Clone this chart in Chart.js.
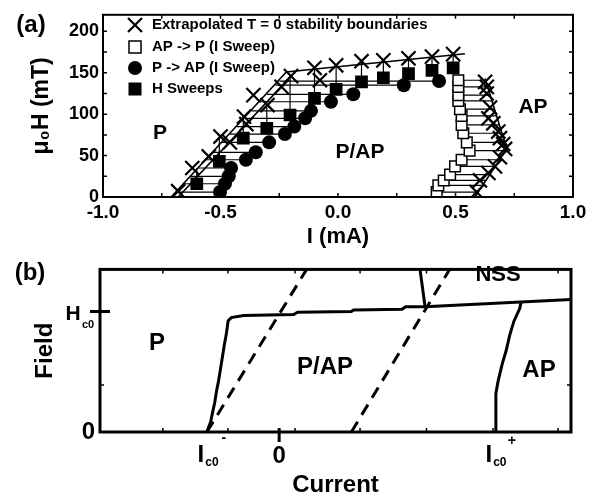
<!DOCTYPE html>
<html>
<head>
<meta charset="utf-8">
<script src="https://cdn.jsdelivr.net/npm/chart.js"></script>
<style>
  body { margin: 0; background: #fff; }
  #wrap { position: relative; width: 607px; height: 500px; }
  canvas { position: absolute; left: 0; }
  #a { top: 0; }
  #b { top: 250px; }
</style>
</head>
<body>
<div id="wrap">
<canvas id="a" width="607" height="250"></canvas>
<canvas id="b" width="607" height="250"></canvas>
</div>
<script>
// ---- panel (a): I in mA, H in mT ----
const xTickA = [-1, -0.5, 0, 0.5, 1];
const yTickA = [0, 50, 100, 150, 200];
const minorXA = [-0.75, -0.25, 0.25, 0.75];
const minorYA = [25, 75, 125, 175];

// P -> AP (I sweep), filled circles, and where their guide line starts on the left
const circI = [-0.502, -0.481, -0.465, -0.455, -0.392, -0.35, -0.293, -0.226, -0.186, -0.14, -0.115, -0.03, 0.065, 0.28, 0.43];
const circH = [6, 16, 25, 35, 45, 54, 66, 76, 85, 95, 104, 115, 124, 135, 140];
const circFromI = [-0.69, -0.657, -0.628, -0.595, -0.562, -0.532, -0.493, -0.46, -0.43, -0.398, -0.368, -0.332, -0.302, -0.266, -0.25];

// AP -> P (I sweep), open squares, and where their guide line ends on the right
const openI = [0.42, 0.427, 0.45, 0.477, 0.498, 0.526, 0.56, 0.548, 0.533, 0.526, 0.526, 0.519, 0.512, 0.512, 0.512, 0.512];
const openH = [6, 14, 20, 27, 37, 45, 56, 66, 77, 87, 98, 106, 116, 123, 133, 141];
const openToI = [0.597, 0.616, 0.63, 0.646, 0.669, 0.688, 0.713, 0.709, 0.697, 0.687, 0.675, 0.666, 0.655, 0.648, 0.637, 0.628];

// H sweeps, filled squares, with the field of the cross above each
const hsI = [-0.601, -0.505, -0.403, -0.303, -0.204, -0.1, -0.008, 0.1, 0.193, 0.3, 0.4, 0.49];
const hsH = [16, 43, 71, 83, 99, 119, 130, 139, 144, 149, 153, 156];
const hsToH = [35, 73, 97, 111, 146, 156, 159, 164, 165, 167.5, 169.5, 172.5];

// extrapolated T = 0 points (crosses)
const xLeftI = [-0.68, -0.62, -0.55, -0.5, -0.46, -0.4, -0.39, -0.36, -0.3, -0.24, -0.2, -0.1, -0.077];
const xLeftH = [7, 35, 49, 73, 66, 97, 88, 123, 111, 133, 146, 156, 141];
const xTopI = [-0.008, 0.1, 0.193, 0.3, 0.4, 0.49];
const xTopH = [159, 164, 165, 167.5, 169.5, 172.5];
const xRightI = [0.59, 0.604, 0.64, 0.668, 0.689, 0.711, 0.703, 0.689, 0.682, 0.661, 0.64, 0.647, 0.633, 0.633, 0.626];
const xRightH = [6, 20, 29, 37, 48, 58, 64, 71, 79, 89, 95, 108, 125, 133, 139];

// boundary fits
const fitLeftI = [-0.71, -0.22, 0.54];
const fitLeftH = [0, 151, 173];
const fitLeft2I = [-0.68, -0.2];
const fitLeft2H = [0, 146];
const fitRightI = [0.583, 0.718, 0.626];
const fitRightH = [0, 58, 143];

// ---- panel (b): schematic, current in units of |Ic0-|, field in units of Hc0 ----
const xTickB = [-1, 0, 3];
const yTickB = [0, 1];
const minorXB = [-1.61, -0.71, 0.22, 1.12, 2.04, 2.96, 3.86];
const minorYB = [0.39];

const bEdgeI = [-1.0, -0.946, -0.92, -0.893, -0.866, -0.84, -0.813, -0.786, -0.76, -0.73, -0.706, -0.663, -0.49, 0.2, 0.256, 1.0, 1.03, 1.7, 1.75, 2.02];
const bEdgeH = [0, 0.09, 0.167, 0.24, 0.343, 0.42, 0.52, 0.62, 0.72, 0.82, 0.924, 0.95, 0.967, 0.975, 0.995, 1.0, 1.013, 1.02, 1.04, 1.04];
const bNssI = [2.02, 4.04];
const bNssH = [1.04, 1.1];
const bUpI = [1.95, 2.02];
const bUpH = [1.35, 1.04];
const bRightI = [3.0, 3.0, 3.03, 3.09, 3.14, 3.19, 3.25, 3.33, 3.35];
const bRightH = [0, 0.318, 0.42, 0.57, 0.67, 0.8, 0.92, 1.025, 1.08];
const bDash1I = [-1.0, 0.38];
const bDash1H = [0, 1.35];
const bDash2I = [1.0, 2.36];
const bDash2H = [0, 1.35];

Chart.defaults.font.family = '"Liberation Sans", Arial, sans-serif';
Chart.defaults.font.weight = 'bold';
Chart.defaults.color = '#000';

const pts = (xs, ys) => xs.map((v, i) => ({x: v, y: ys[i]}));
const line = (xs, ys, w, dash) => ({
  data: pts(xs, ys), showLine: true, pointRadius: 0, borderColor: '#000',
  borderWidth: w, borderDash: dash || [], fill: false
});

function label(ctx, s, x, y, size, align) {
  ctx.font = 'bold ' + size + 'px "Liberation Sans", Arial, sans-serif';
  ctx.textAlign = align || 'center';
  ctx.textBaseline = 'middle';
  ctx.fillStyle = '#000';
  ctx.fillText(s, x, y);
}

function frame(chart, xs, ys, len, lw) {
  const {ctx, chartArea: a, scales} = chart;
  ctx.save();
  ctx.strokeStyle = '#000';
  ctx.lineWidth = 1.5;
  ctx.beginPath();
  xs.forEach(v => {
    const p = scales.x.getPixelForValue(v);
    ctx.moveTo(p, a.bottom); ctx.lineTo(p, a.bottom - len);
    ctx.moveTo(p, a.top); ctx.lineTo(p, a.top + len);
  });
  ys.forEach(v => {
    const p = scales.y.getPixelForValue(v);
    ctx.moveTo(a.left, p); ctx.lineTo(a.left + len, p);
    ctx.moveTo(a.right, p); ctx.lineTo(a.right - len, p);
  });
  ctx.stroke();
  ctx.lineWidth = lw;
  ctx.strokeRect(a.left, a.top, a.right - a.left, a.bottom - a.top);
  ctx.restore();
}

// ---------- chart (a) ----------
const dsA = [
  {label: 'Extrapolated T = 0 stability boundaries',
   data: pts(xLeftI.concat(xTopI, xRightI), xLeftH.concat(xTopH, xRightH)),
   pointStyle: 'crossRot', pointRadius: 10, borderColor: '#000', backgroundColor: '#000', borderWidth: 2.2},
  {label: 'AP -> P (I Sweep)', data: pts(openI, openH),
   pointStyle: 'rect', pointRadius: 7.5, borderColor: '#000', backgroundColor: '#fff', borderWidth: 1.5},
  {label: 'P -> AP (I Sweep)', data: pts(circI, circH),
   pointStyle: 'circle', pointRadius: 7, borderColor: '#000', backgroundColor: '#000', borderWidth: 0},
  {label: 'H Sweeps', data: pts(hsI, hsH),
   pointStyle: 'rect', pointRadius: 9, borderColor: '#000', backgroundColor: '#000', borderWidth: 0},
  line(fitLeftI, fitLeftH, 1.6),
  line(fitLeft2I, fitLeft2H, 1.6),
  line(fitRightI, fitRightH, 1.6)
];
circI.forEach((v, i) => dsA.push(line([circFromI[i], v], [circH[i], circH[i]], 1.2)));
openI.forEach((v, i) => dsA.push(line([v, openToI[i]], [openH[i], openH[i]], 1.2)));
hsI.forEach((v, i) => dsA.push(line([v, v], [hsH[i], hsToH[i]], 1.2)));

const panelA = {
  id: 'panelA',
  afterDraw(chart) {
    const ctx = chart.ctx;
    frame(chart, xTickA.concat(minorXA), yTickA.concat(minorYA), 4, 2);
    ctx.save();
    // legend, inside the plot
    const rows = [25, 47, 68, 89], mx = 135, tx = 152;
    ctx.strokeStyle = '#000'; ctx.fillStyle = '#000';
    ctx.lineWidth = 2.2;
    ctx.beginPath();
    ctx.moveTo(mx - 7, rows[0] - 7); ctx.lineTo(mx + 7, rows[0] + 7);
    ctx.moveTo(mx + 7, rows[0] - 7); ctx.lineTo(mx - 7, rows[0] + 7);
    ctx.stroke();
    ctx.lineWidth = 1.5;
    ctx.strokeRect(mx - 6, rows[1] - 6, 12, 12);
    ctx.beginPath(); ctx.arc(mx, rows[2], 7, 0, Math.PI * 2); ctx.fill();
    ctx.fillRect(mx - 6.5, rows[3] - 6.5, 13, 13);
    for (let i = 0; i < 4; i++) label(ctx, chart.data.datasets[i].label, tx, rows[i], 15, 'left');
    label(ctx, 'P', 160, 133, 21);
    label(ctx, 'P/AP', 360, 152, 21);
    label(ctx, 'AP', 533, 107, 21);
    label(ctx, '(a)', 31, 25, 24);
    ctx.restore();
  }
};

new Chart(document.getElementById('a'), {
  type: 'scatter',
  data: {datasets: dsA},
  options: {
    responsive: false,
    animation: false,
    layout: {padding: {top: 6, right: 34, left: 0, bottom: 0}},
    plugins: {legend: {display: false}, tooltip: {enabled: false}},
    scales: {
      x: {
        type: 'linear', min: -1, max: 1,
        grid: {display: false, drawTicks: false}, border: {display: false},
        afterBuildTicks: s => { s.ticks = xTickA.map(v => ({value: v})); },
        afterFit: s => { s.height = 53; },
        ticks: {autoSkip: false, padding: 4, font: {size: 19, weight: 'bold'}, callback: v => v.toFixed(1)},
        title: {display: true, text: 'I (mA)', font: {size: 22, weight: 'bold'}, padding: {top: 0, bottom: 0}}
      },
      y: {
        type: 'linear', min: 0, max: 220,
        grid: {display: false, drawTicks: false}, border: {display: false},
        afterBuildTicks: s => { s.ticks = yTickA.map(v => ({value: v})); },
        afterFit: s => { s.width = 103; },
        ticks: {autoSkip: false, padding: 4, font: {size: 18, weight: 'bold'}, callback: v => String(v)},
        title: {display: true, text: 'μ₀H (mT)', font: {size: 23, weight: 'bold'}, padding: {top: 28, bottom: 0}}
      }
    }
  },
  plugins: [panelA]
});

// ---------- chart (b) ----------
const dsB = [
  line(bEdgeI, bEdgeH, 3),
  line(bNssI, bNssH, 3),
  line(bUpI, bUpH, 3),
  line(bRightI, bRightH, 3),
  line(bDash1I, bDash1H, 3, [12, 8]),
  line(bDash2I, bDash2H, 3, [12, 8])
];

const panelB = {
  id: 'panelB',
  afterDraw(chart) {
    const {ctx, chartArea: a, scales: {x, y}} = chart;
    frame(chart, minorXB, minorYB, 4, 3);
    ctx.save();
    ctx.strokeStyle = '#000';
    ctx.lineWidth = 3;
    ctx.beginPath();
    const x0 = x.getPixelForValue(0);
    ctx.moveTo(x0, a.bottom - 4); ctx.lineTo(x0, a.bottom + 10);
    const yh = y.getPixelForValue(1);
    ctx.moveTo(a.left - 10, yh); ctx.lineTo(a.left + 10, yh);
    ctx.stroke();
    // H_c0
    label(ctx, 'H', 73, yh + 3, 21);
    label(ctx, 'c0', 88, yh + 13, 11);
    // I_c0 labels
    const xm = x.getPixelForValue(-1), xp = x.getPixelForValue(3);
    label(ctx, 'I', xm - 6, 205, 24);
    label(ctx, 'c0', xm + 5, 213, 12);
    label(ctx, '-', xm + 17, 188, 14);
    label(ctx, 'I', xp - 7, 205, 24);
    label(ctx, 'c0', xp + 4, 213, 12);
    label(ctx, '+', xp + 16, 191, 14);
    label(ctx, 'P', 157, 93, 24);
    label(ctx, 'P/AP', 325, 117, 24);
    label(ctx, 'AP', 539, 120, 24);
    label(ctx, 'NSS', 498, 25, 22);
    label(ctx, '(b)', 30, 23, 24);
    ctx.restore();
  }
};

new Chart(document.getElementById('b'), {
  type: 'scatter',
  data: {datasets: dsB},
  options: {
    responsive: false,
    animation: false,
    layout: {padding: {top: 4, right: 36, left: 0, bottom: 0}},
    plugins: {legend: {display: false}, tooltip: {enabled: false}},
    scales: {
      x: {
        type: 'linear', min: -2.48, max: 4.04,
        grid: {display: false, drawTicks: false}, border: {display: false},
        afterBuildTicks: s => { s.ticks = xTickB.map(v => ({value: v})); },
        afterFit: s => { s.height = 68; },
        ticks: {autoSkip: false, padding: 10, font: {size: 24, weight: 'bold'}, callback: v => (v === 0 ? '0' : '')},
        title: {display: true, text: 'Current', font: {size: 24, weight: 'bold'}, padding: {top: 0, bottom: 0}}
      },
      y: {
        type: 'linear', min: 0, max: 1.35,
        grid: {display: false, drawTicks: false}, border: {display: false},
        afterBuildTicks: s => { s.ticks = yTickB.map(v => ({value: v})); },
        afterFit: s => { s.width = 100; },
        ticks: {autoSkip: false, padding: 5, font: {size: 24, weight: 'bold'}, callback: v => (v === 0 ? '0' : '')},
        title: {display: true, text: 'Field', font: {size: 24, weight: 'bold'}, padding: {top: 31, bottom: 0}}
      }
    }
  },
  plugins: [panelB]
});
</script>
</body>
</html>
